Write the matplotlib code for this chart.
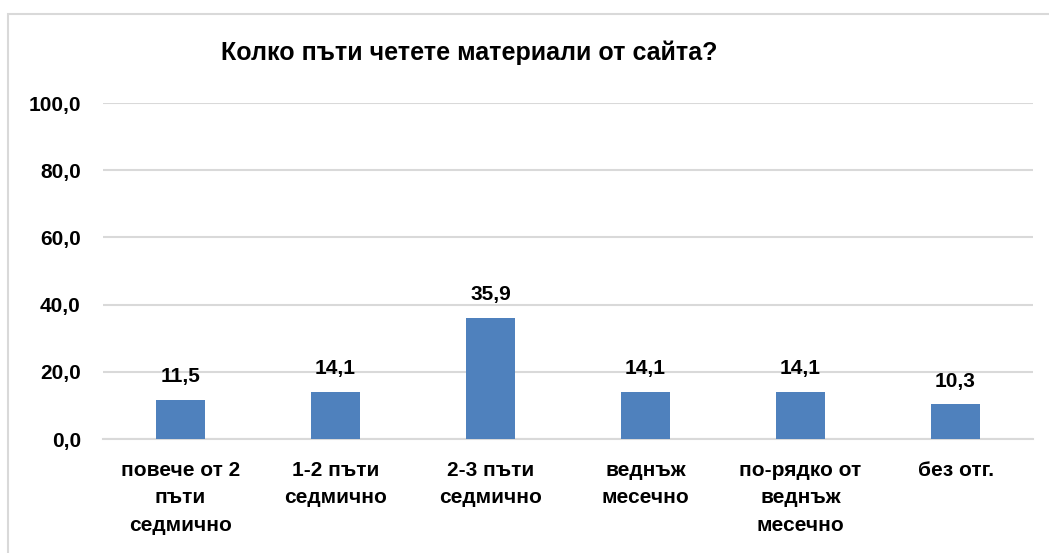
import matplotlib
matplotlib.use("Agg")
import matplotlib.pyplot as plt
from matplotlib.patches import Rectangle

categories = ["повече от 2\nпъти\nседмично", "1-2 пъти\nседмично", "2-3 пъти\nседмично",
              "веднъж\nмесечно", "по-рядко от\nведнъж\nмесечно", "без отг."]
values = [11.5, 14.1, 35.9, 14.1, 14.1, 10.3]
yticks = [0, 20, 40, 60, 80, 100]
title = "Колко пъти четете материали от сайта?"

plt.rcParams['font.family'] = ['Liberation Sans', 'DejaVu Sans']
plt.rcParams['font.weight'] = 'bold'

W, H = 1049, 553
fig = plt.figure(figsize=(W/100, H/100), dpi=100)
fig.patch.set_facecolor('white')

# outer border
fig.patches.append(Rectangle((8/W, -0.1), 1.2, (H-14)/H + 0.1, transform=fig.transFigure,
                             fill=False, edgecolor='#D9D9D9', linewidth=1.5, zorder=0))

ax = fig.add_axes([103/W, (H-439)/H, 930/W, 336/H])
x = range(len(categories))
bars = ax.bar(x, values, width=0.313, color='#4F81BD', zorder=3)
ax.set_xlim(-0.5, len(categories)-0.5)
ax.set_ylim(0, 100)
ax.set_yticks(yticks)
ax.set_yticklabels([f"{v:.1f}".replace('.', ',') for v in yticks], fontsize=15, fontweight='bold')
ax.set_xticks(list(x))
ax.set_xticklabels(categories, fontsize=15, fontweight='bold', linespacing=1.55, va='top')
ax.tick_params(axis='both', length=0)
ax.tick_params(axis='y', pad=16)
ax.tick_params(axis='x', pad=16)
for s in ['top', 'right', 'left']:
    ax.spines[s].set_visible(False)
ax.spines['bottom'].set_color('#D9D9D9')
ax.spines['bottom'].set_linewidth(1.5)
ax.yaxis.grid(True, color='#D9D9D9', linewidth=1.5, zorder=0)
ax.set_axisbelow(True)

for b, v in zip(bars, values):
    ax.annotate(f"{v:.1f}".replace('.', ','), (b.get_x() + b.get_width()/2, v),
                xytext=(0, 10), textcoords='offset points', ha='center', va='bottom',
                fontsize=15, fontweight='bold')

fig.text(469/W, 1 - 53/H, title, ha='center', va='center', fontsize=18, fontweight='bold')

fig.savefig('out.png', dpi=100, facecolor='white')
